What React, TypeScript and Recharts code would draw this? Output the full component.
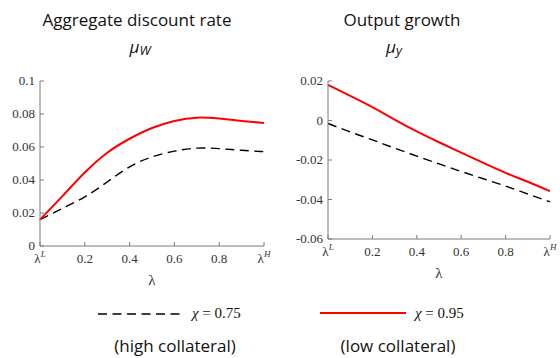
import { Line, LineChart, XAxis, YAxis } from "recharts";

const lambda = [0, 0.1, 0.2, 0.3, 0.4, 0.5, 0.6, 0.7, 0.8, 0.9, 1];
const discountLow = [0.016, 0.0228, 0.0298, 0.0388, 0.048, 0.054, 0.0575, 0.0593, 0.059, 0.058, 0.0572];
const discountHigh = [0.016, 0.0302, 0.0445, 0.0565, 0.065, 0.0715, 0.0758, 0.0778, 0.0772, 0.0758, 0.0745];
const growthLow = [-0.0015, -0.0058, -0.0098, -0.014, -0.018, -0.022, -0.0258, -0.0295, -0.0332, -0.0372, -0.0412];
const growthHigh = [0.018, 0.0125, 0.0068, 0.0005, -0.0055, -0.011, -0.0163, -0.0215, -0.0265, -0.031, -0.0358];
const xTicks = [0, 0.2, 0.4, 0.6, 0.8, 1];
const discountTicks = [0, 0.02, 0.04, 0.06, 0.08, 0.1];
const growthTicks = [-0.06, -0.04, -0.02, 0, 0.02];

const discountData = lambda.map((l, i) => ({ l, lo: discountLow[i], hi: discountHigh[i] }));
const growthData = lambda.map((l, i) => ({ l, lo: growthLow[i], hi: growthHigh[i] }));

const AXIS = "#7a7a7a";
const TEXT = "#333";
const SERIF = "'Liberation Serif', 'DejaVu Serif', serif";
const SANS = "'Open Sans', sans-serif";

function LambdaTick(props: any) {
  const { x, y, payload } = props;
  const v = payload.value;
  const sup = v === 0 ? "L" : v === 1 ? "H" : null;
  return (
    <text x={x} y={y} dy={9} textAnchor="middle" fill={TEXT} style={{ fontFamily: SERIF, fontSize: 13 }}>
      {sup ? (
        <>
          λ
          <tspan fontSize={9} dy={-6} fontStyle="italic">
            {sup}
          </tspan>
        </>
      ) : (
        String(v)
      )}
    </text>
  );
}

function YTick(props: any) {
  const { x, y, payload } = props;
  return (
    <text x={x} y={y} dy={4} textAnchor="end" fill={TEXT} style={{ fontFamily: SERIF, fontSize: 13 }}>
      {String(payload.value)}
    </text>
  );
}

function Panel(props: {
  data: any[];
  domain: [number, number];
  ticks: number[];
  yWidth: number;
  marginLeft: number;
  marginRight: number;
  marginBottom: number;
}) {
  const { data, domain, ticks, yWidth, marginLeft, marginRight, marginBottom } = props;
  return (
    <LineChart
      width={280}
      height={300}
      data={data}
      margin={{ top: 81, right: marginRight, bottom: marginBottom, left: marginLeft }}
    >
      <XAxis
        xAxisId="b"
        dataKey="l"
        type="number"
        domain={[0, 1]}
        ticks={xTicks}
        tickSize={-4}
        tickMargin={12}
        stroke={AXIS}
        height={30}
        tick={<LambdaTick />}
        label={{ value: "λ", position: "insideBottom", offset: -9, fill: TEXT, style: { fontFamily: SERIF, fontSize: 15 } }}
      />
      <XAxis
        xAxisId="t"
        orientation="top"
        dataKey="l"
        type="number"
        domain={[0, 1]}
        ticks={xTicks}
        tickSize={-4}
        height={0}
        stroke={AXIS}
        tickFormatter={() => ""}
      />
      <YAxis
        yAxisId="l"
        domain={domain}
        ticks={ticks}
        tickSize={-4}
        tickMargin={9}
        width={yWidth}
        stroke={AXIS}
        tick={<YTick />}
        allowDataOverflow
      />
      <YAxis
        yAxisId="r"
        orientation="right"
        domain={domain}
        ticks={ticks}
        tickSize={-4}
        width={0}
        stroke={AXIS}
        tickFormatter={() => ""}
      />
      <Line
        xAxisId="b"
        yAxisId="l"
        type="natural"
        dataKey="lo"
        stroke="#000"
        strokeWidth={1.4}
        strokeDasharray="9 5.5"
        dot={false}
        isAnimationActive={false}
      />
      <Line
        xAxisId="b"
        yAxisId="l"
        type="natural"
        dataKey="hi"
        stroke="#ff0000"
        strokeWidth={2}
        dot={false}
        isAnimationActive={false}
      />
    </LineChart>
  );
}

export default function App() {
  return (
    <div style={{ position: "absolute", left: 0, top: 0, width: 560, height: 358, background: "#fff" }}>
      <div style={{ position: "absolute", left: 0, top: 0 }}>
        <Panel
          data={discountData}
          domain={[0, 0.1]}
          ticks={discountTicks}
          yWidth={34}
          marginLeft={6}
          marginRight={16}
          marginBottom={24}
        />
      </div>
      <div style={{ position: "absolute", left: 280, top: 0 }}>
        <Panel
          data={growthData}
          domain={[-0.06, 0.02]}
          ticks={growthTicks}
          yWidth={40}
          marginLeft={8}
          marginRight={10}
          marginBottom={31}
        />
      </div>
      <svg width={560} height={358} style={{ position: "absolute", left: 0, top: 0, pointerEvents: "none" }}>
        <g style={{ fontFamily: SANS, fontSize: 17 }} fill="#111" textAnchor="middle">
          <text x={137} y={26}>Aggregate discount rate</text>
          <text x={402} y={26}>Output growth</text>
        </g>
        <g style={{ fontFamily: SANS, fontSize: 17, fontStyle: "italic" }} fill="#111" textAnchor="middle">
          <text x={140} y={53}>
            μ<tspan fontSize={13} dy={2}>W</tspan>
          </text>
          <text x={394} y={53}>
            μ<tspan fontSize={13} dy={2}>y</tspan>
          </text>
        </g>
        <line x1={98} x2={180} y1={314} y2={314} stroke="#000" strokeWidth={1.4} strokeDasharray="9 5.5" />
        <line x1={320} x2={406} y1={313} y2={313} stroke="#ff0000" strokeWidth={2} />
        <g style={{ fontFamily: SERIF, fontSize: 15 }} fill="#111">
          <text x={192} y={318}>
            <tspan fontStyle="italic">χ</tspan> = 0.75
          </text>
          <text x={415} y={318}>
            <tspan fontStyle="italic">χ</tspan> = 0.95
          </text>
        </g>
        <g style={{ fontFamily: SANS, fontSize: 17 }} fill="#111" textAnchor="middle">
          <text x={175} y={352}>(high collateral)</text>
          <text x={398} y={352}>(low collateral)</text>
        </g>
      </svg>
    </div>
  );
}
